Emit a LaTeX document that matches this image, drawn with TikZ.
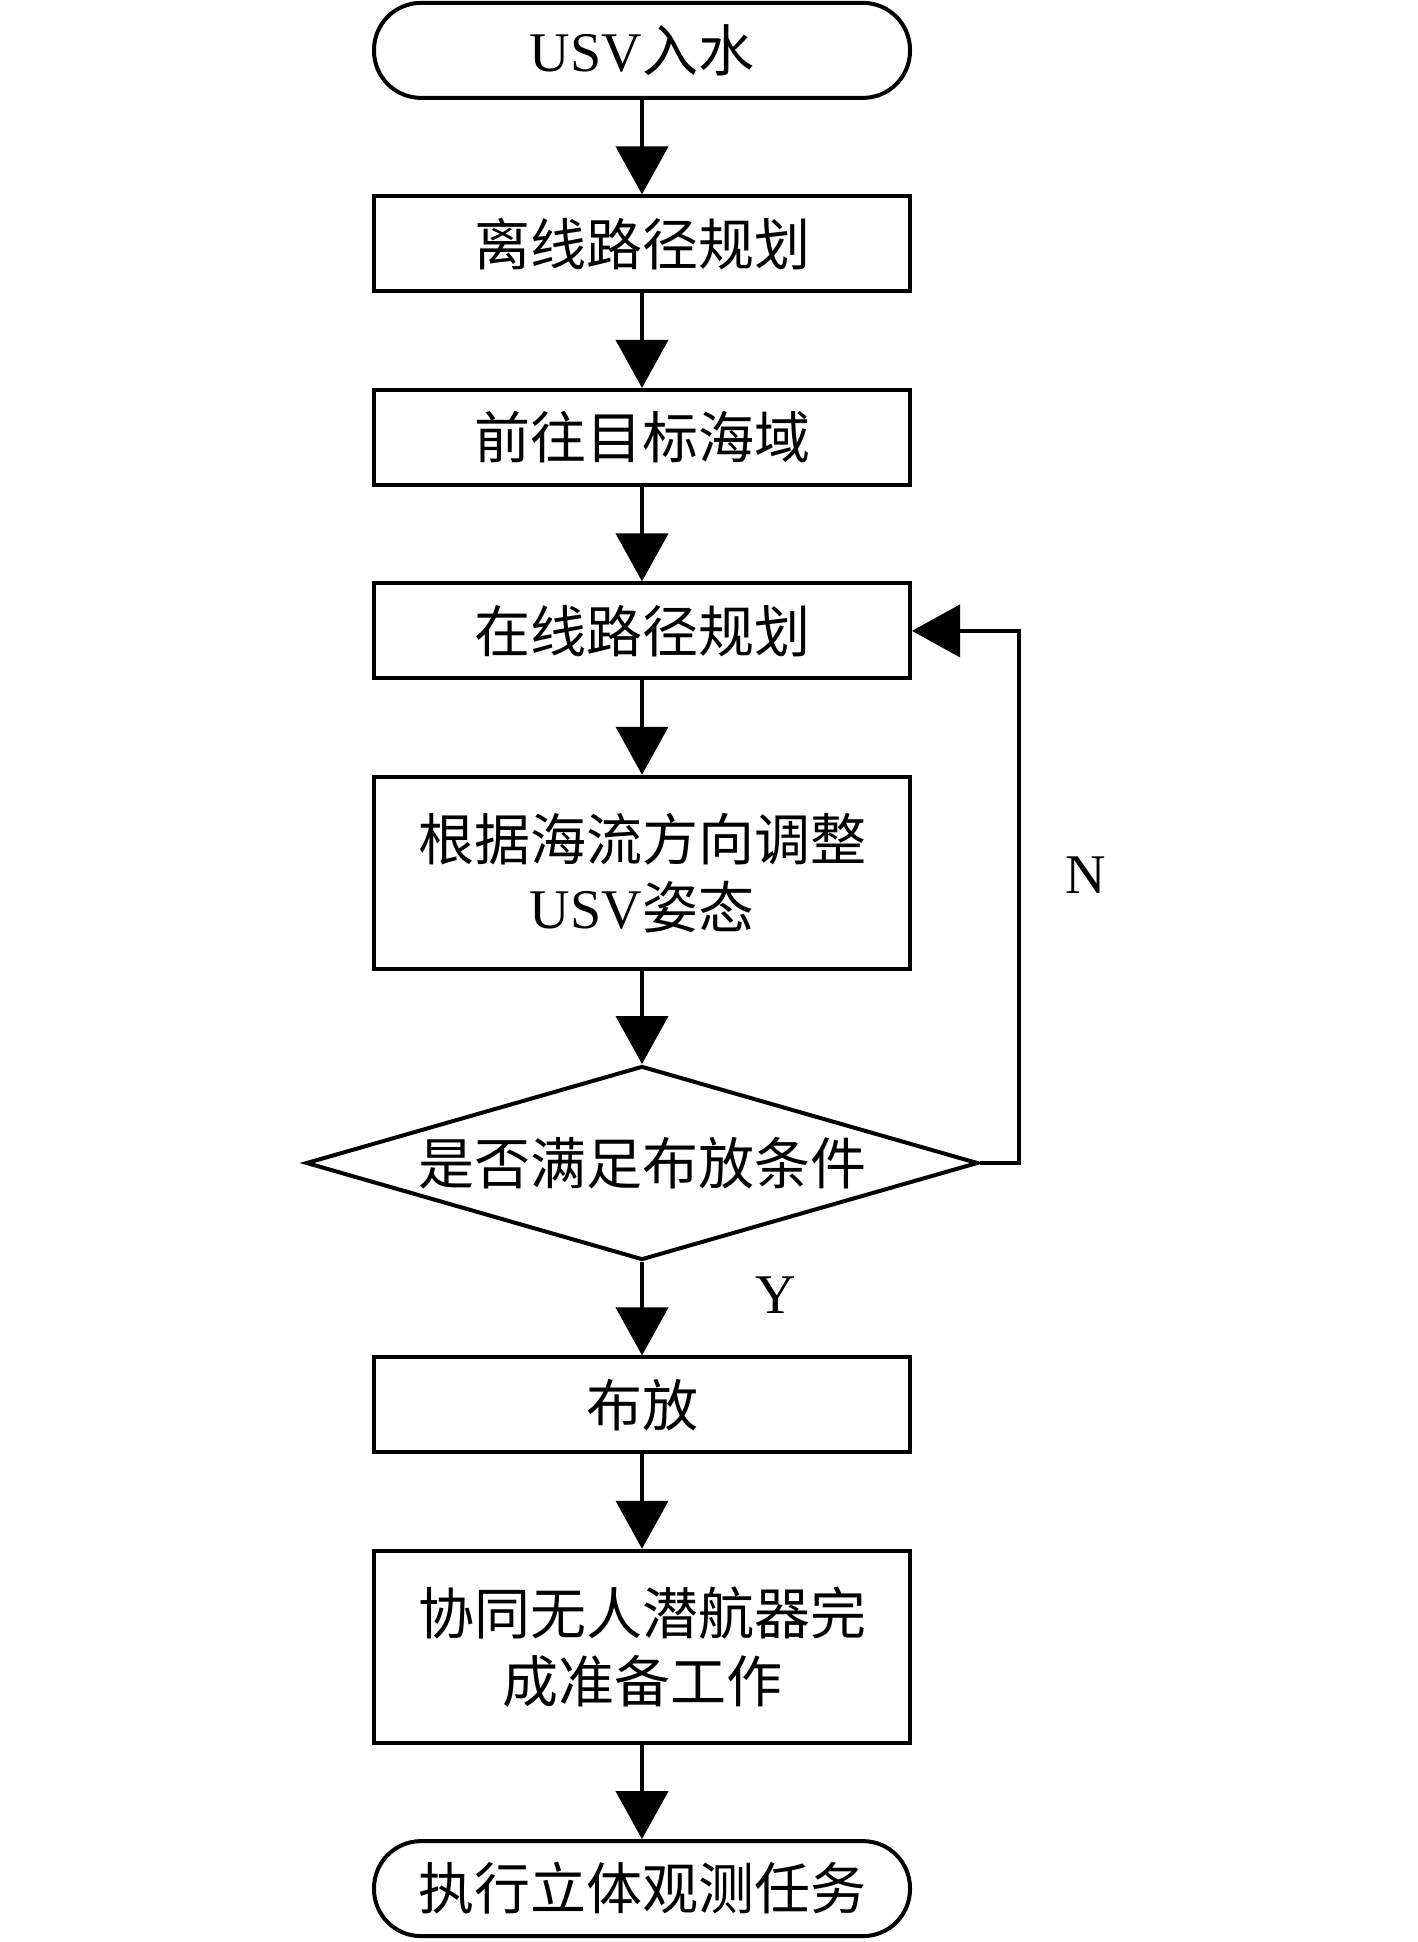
\documentclass[tikz,border=0pt]{standalone}
\usepackage{fontspec}
\setmainfont{Liberation Serif}
\newfontfamily\cjk{Noto Sans CJK SC}
\usetikzlibrary{arrows.meta,shapes.geometric}
\begin{document}
\begin{tikzpicture}[x=1pt,y=-1pt,
  base/.style={draw, line width=4pt, inner sep=0pt, minimum width=536pt,
    font=\fontsize{56}{68}\selectfont\cjk, align=center},
  procbox/.style={base, rectangle, minimum height=95pt},
  tallbox/.style={base, rectangle, minimum height=192pt},
  termbox/.style={base, rectangle, rounded corners=47pt, minimum height=95pt},
  decbox/.style={base, diamond, minimum width=672pt, minimum height=194pt, aspect=3.5},
  flow/.style={line width=4pt, line join=miter, -{Triangle[length=48pt,width=52pt]}},
  lbl/.style={font=\fontsize{56}{68}\selectfont}
]
\useasboundingbox (0,0) rectangle (1417,1942);
\node[termbox] (t1) at (642,50.4) {{\rmfamily USV}入水};
\node[procbox] (b1) at (642,243.9) {离线路径规划};
\node[procbox] (b2) at (642,437.4) {前往目标海域};
\node[procbox] (b3) at (642,630.9) {在线路径规划};
\node[tallbox] (b4) at (642,872.75) {根据海流方向调整\\{\rmfamily USV}姿态};
\node[decbox] (d) at (642,1163) {是否满足布放条件};
\node[procbox] (b5) at (642,1404.9) {布放};
\node[tallbox] (b6) at (642,1646.75) {协同无人潜航器完\\成准备工作};
\node[termbox] (t2) at (642,1888.6) {执行立体观测任务};

\draw[flow] (t1) -- (b1);
\draw[flow] (b1) -- (b2);
\draw[flow] (b2) -- (b3);
\draw[flow] (b3) -- (b4);
\draw[flow] (b4) -- (d);
\draw[flow] (d) -- (b5);
\draw[flow] (b5) -- (b6);
\draw[flow] (b6) -- (t2);

\coordinate (fb1) at (1019,1163);
\coordinate (fb2) at (1019,630.9);
\draw[flow] (d.east) -- (fb1) -- (fb2) -- (b3.east);

\node[lbl] (ln) at (1086,875) {N};
\node[lbl] (ly) at (776,1295) {Y};
\end{tikzpicture}
\end{document}
